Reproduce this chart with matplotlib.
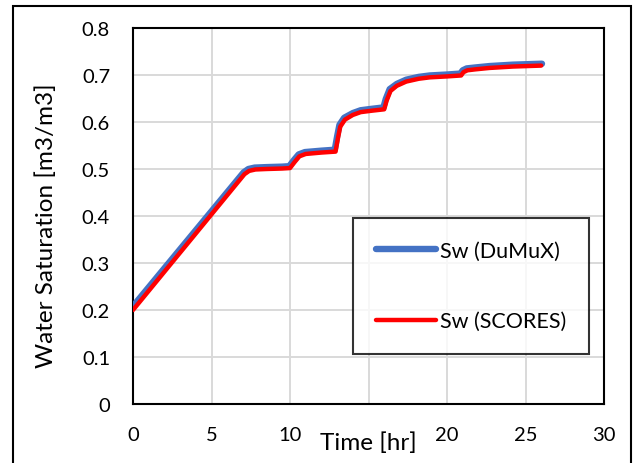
"""Water saturation over time: DuMuX vs SCORES comparison."""

from matplotlib import pyplot as plt
from matplotlib.patches import Rectangle

# time [hr] and water saturation [m3/m3]
time_scores = [0.0, 7.1, 7.4, 7.8, 8.5, 9.5, 10.0, 10.3, 10.6, 11.0, 12.0, 12.9,
               13.05, 13.2, 13.5, 14.0, 14.5, 15.2, 16.0, 16.15, 16.4, 16.8, 17.4,
               18.2, 18.9, 20.0, 20.9, 21.05, 21.3, 21.8, 22.7, 24.2, 26.0]
sw_scores = [0.200, 0.489, 0.496, 0.499, 0.500, 0.501, 0.502, 0.515, 0.527, 0.532,
             0.535, 0.537, 0.565, 0.590, 0.605, 0.615, 0.621, 0.624, 0.627, 0.645,
             0.666, 0.677, 0.686, 0.692, 0.695, 0.697, 0.699, 0.706, 0.710, 0.712,
             0.715, 0.718, 0.720]

time_dumux = [0.0, 7.05, 7.35, 7.75, 8.5, 9.5, 9.95, 10.25, 10.55, 10.95, 12.0, 12.85,
              13.0, 13.15, 13.45, 14.0, 14.5, 15.2, 15.95, 16.1, 16.35, 16.8, 17.4,
              18.2, 18.9, 20.0, 20.85, 21.0, 21.25, 21.8, 22.7, 24.2, 26.05]
sw_dumux = [0.208, 0.493, 0.500, 0.503, 0.504, 0.505, 0.506, 0.519, 0.531, 0.536,
            0.539, 0.541, 0.569, 0.594, 0.609, 0.619, 0.625, 0.628, 0.631, 0.649,
            0.670, 0.681, 0.690, 0.696, 0.699, 0.701, 0.703, 0.710, 0.714, 0.716,
            0.719, 0.722, 0.724]

x_ticks = [0, 5, 10, 15, 20, 25, 30]
x_tick_labels = ["0", "5", "10", "", "20", "25", "30"]  # "15" is hidden under the title
y_ticks = [0, 0.1, 0.2, 0.3, 0.4, 0.5, 0.6, 0.7, 0.8]
y_tick_labels = ["0", "0.1", "0.2", "0.3", "0.4", "0.5", "0.6", "0.7", "0.8"]

W, H = 634, 464

plt.rcParams["font.family"] = ["Lato", "DejaVu Sans"]
plt.rcParams["font.size"] = 14

fig = plt.figure(figsize=(W / 100, H / 100), dpi=100)
ax = fig.add_axes([133 / W, 1 - 405 / H, (604 - 133) / W, (405 - 29) / H])

ax.plot(time_dumux, sw_dumux, color="#4472C4", lw=4.6, solid_capstyle="round",
        label="Sw (DuMuX)", zorder=3)
ax.plot(time_scores, sw_scores, color="#FF0000", lw=3.2, solid_capstyle="round",
        label="Sw (SCORES)", zorder=4)

ax.set_xlim(0, 30)
ax.set_ylim(0, 0.8)
ax.set_xticks(x_ticks)
ax.set_xticklabels(x_tick_labels)
ax.set_yticks(y_ticks)
ax.set_yticklabels(y_tick_labels)
ax.tick_params(length=0, labelsize=14.5)
ax.tick_params(axis="y", pad=16.5)
ax.tick_params(axis="x", pad=15.5)

ax.grid(True, color="#D9D9D9", lw=1.4)
ax.set_axisbelow(True)
for sp in ax.spines.values():
    sp.set_color("black")
    sp.set_linewidth(1.5)

ax.set_xlabel("Time [hr]", fontsize=17.5, va="center")
ax.xaxis.set_label_coords(0.5, -(443 - 405) / (405 - 29))
ax.set_ylabel("Water Saturation [m3/m3]", fontsize=17.5, va="center")
ax.yaxis.set_label_coords(-(133 - 46) / (604 - 133), (405 - 226) / (405 - 29))

leg = ax.legend(
    loc="upper left",
    bbox_to_anchor=(353 / W, 1 - 219 / H),
    bbox_transform=fig.transFigure,
    borderaxespad=0,
    fontsize=15.5,
    frameon=True,
    fancybox=False,
    borderpad=1.05,
    labelspacing=2.35,
    handlelength=2.8,
    handletextpad=0.2,
)
leg.get_frame().set_edgecolor("black")
leg.get_frame().set_linewidth(1.5)

# outer chart border
fig.add_artist(Rectangle((12.5 / W, -0.02), (631 - 12.5) / W, 1 - 7 / H + 0.02,
                         transform=fig.transFigure, fill=False, ec="black", lw=1.5))

fig.savefig("out.png", dpi=100, facecolor="white")
